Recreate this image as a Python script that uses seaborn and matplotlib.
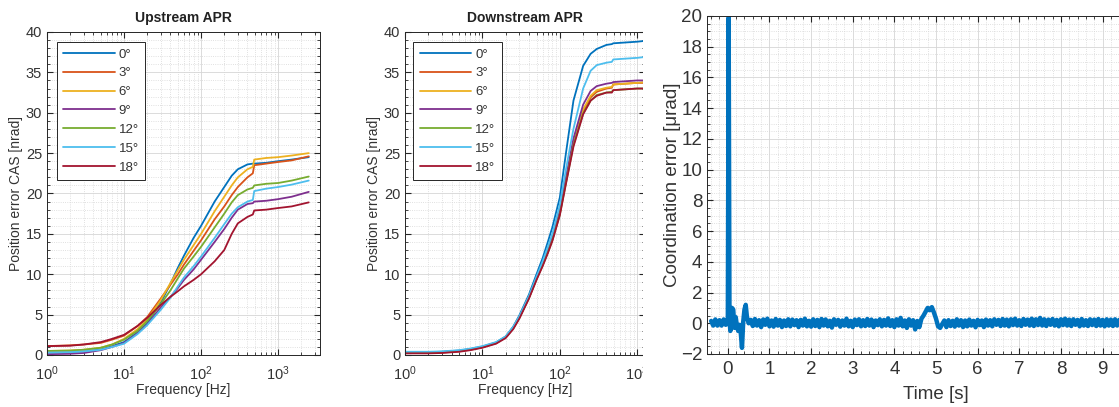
import numpy as np
import pandas as pd
import matplotlib
matplotlib.use('Agg')
import matplotlib.pyplot as plt
from matplotlib.patches import Rectangle
from matplotlib.ticker import MultipleLocator, LogLocator, NullFormatter, FixedLocator
import seaborn as sns

#---------------------------------------------------
angles=['0°', '3°', '6°', '9°', '12°', '15°', '18°']
cmap=['#0072BD', '#D95319', '#EDB120', '#7E2F8E', '#77AC30', '#4DBEEE', '#A2142F']

# upstream APR, position error [nrad] vs frequency [Hz]
f_up=[1, 2, 3, 5, 7, 10, 15, 20, 30, 40, 50, 60, 80, 100, 150, 200, 250, 300, 400, 470, 490, 700, 1000, 1500, 2500]
up_0=[0.3, 0.35, 0.45, 0.7, 1.1, 1.6, 2.8, 3.9, 6.5, 8.8, 10.8, 12.3, 14.5, 16.0, 19.0, 20.8, 22.2, 23.0, 23.6, 23.7, 23.7, 23.8, 24.0, 24.2, 24.5]
up_3=[1.1, 1.2, 1.3, 1.5, 1.9, 2.4, 3.6, 4.7, 7.0, 8.7, 10.0, 11.2, 12.9, 14.2, 16.8, 18.4, 19.8, 20.8, 22.0, 22.5, 23.5, 23.7, 23.9, 24.1, 24.6]
up_6=[0.5, 0.55, 0.65, 0.9, 1.3, 2.0, 3.2, 4.4, 6.8, 8.9, 10.5, 11.8, 13.6, 15.0, 17.8, 19.6, 21.0, 22.0, 23.0, 23.3, 24.2, 24.4, 24.5, 24.7, 25.0]
up_9=[0.1, 0.15, 0.25, 0.6, 1.0, 1.5, 2.7, 3.8, 5.9, 7.2, 8.3, 9.3, 10.6, 11.8, 14.0, 15.6, 17.0, 18.0, 18.7, 18.8, 19.0, 19.1, 19.3, 19.6, 20.2]
up_12=[0.5, 0.55, 0.65, 0.9, 1.3, 1.9, 3.0, 4.2, 6.3, 8.0, 9.5, 10.7, 12.2, 13.4, 15.8, 17.5, 18.9, 19.8, 20.5, 20.7, 21.0, 21.2, 21.3, 21.6, 22.1]
up_15=[0.3, 0.35, 0.45, 0.65, 1.0, 1.4, 2.6, 3.7, 5.6, 7.1, 8.5, 9.6, 11.0, 12.2, 14.5, 16.2, 17.5, 18.3, 19.0, 19.2, 20.3, 20.6, 20.8, 21.1, 21.6]
up_18=[1.1, 1.15, 1.3, 1.6, 2.0, 2.5, 3.6, 4.6, 6.2, 7.2, 7.9, 8.5, 9.3, 10.0, 11.6, 13.0, 15.0, 16.3, 17.1, 17.4, 17.9, 18.0, 18.2, 18.4, 18.9]

# downstream APR
f_dn=[1, 2, 3, 5, 7, 10, 15, 20, 25, 30, 40, 50, 60, 70, 80, 100, 120, 150, 200, 250, 300, 400, 470, 490, 700, 1000, 1250]
dn_0=[0.35, 0.35, 0.4, 0.55, 0.75, 1.05, 1.55, 2.3, 3.5, 4.9, 7.5, 10.0, 12.0, 14.0, 15.8, 19.5, 25.0, 31.5, 35.8, 37.3, 37.9, 38.4, 38.5, 38.6, 38.7, 38.8, 38.9]
dn_3=[0.25, 0.25, 0.3, 0.45, 0.65, 0.95, 1.45, 2.2, 3.3, 4.6, 7.1, 9.4, 11.2, 12.8, 14.3, 17.6, 21.5, 26.2, 30.2, 31.9, 32.6, 33.0, 33.1, 33.5, 33.6, 33.7, 33.7]
dn_6=[0.3, 0.3, 0.35, 0.5, 0.7, 1.0, 1.5, 2.2, 3.4, 4.7, 7.2, 9.5, 11.3, 12.9, 14.4, 17.7, 21.7, 26.4, 30.4, 32.1, 32.8, 33.1, 33.2, 33.5, 33.6, 33.7, 33.8]
dn_9=[0.3, 0.3, 0.35, 0.5, 0.7, 1.0, 1.5, 2.2, 3.4, 4.7, 7.2, 9.5, 11.3, 12.9, 14.5, 17.8, 22.0, 26.8, 31.0, 32.7, 33.3, 33.6, 33.7, 33.8, 33.9, 34.0, 34.0]
dn_12=[0.3, 0.3, 0.35, 0.5, 0.7, 1.0, 1.5, 2.2, 3.3, 4.6, 7.1, 9.4, 11.1, 12.7, 14.2, 17.4, 21.3, 26.0, 29.9, 31.5, 32.2, 32.5, 32.6, 32.8, 32.9, 33.0, 33.0]
dn_15=[0.4, 0.4, 0.45, 0.6, 0.8, 1.1, 1.6, 2.3, 3.5, 4.8, 7.3, 9.7, 11.6, 13.4, 15.0, 18.6, 23.0, 28.0, 33.0, 35.2, 35.9, 36.2, 36.3, 36.6, 36.7, 36.8, 36.9]
dn_18=[0.2, 0.2, 0.25, 0.4, 0.6, 0.9, 1.4, 2.1, 3.2, 4.5, 7.0, 9.3, 11.0, 12.6, 14.1, 17.3, 21.2, 25.8, 29.8, 31.5, 32.1, 32.5, 32.5, 32.8, 32.9, 33.0, 33.0]

# coordination error [urad] vs time [s]
t_pre=[-0.4, -0.35, -0.3, -0.25, -0.2, -0.15, -0.1, -0.05, 0.0]
e_pre=[0.15, -0.15, 0.25, -0.15, 0.2, -0.15, 0.25, -0.1, 0.0]
t_tr=[0.02, 0.04, 0.06, 0.08, 0.1, 0.13, 0.16, 0.19, 0.22, 0.25, 0.28, 0.31, 0.34, 0.37, 0.4, 0.43, 0.46, 0.5]
e_tr=[19.9, 0.3, -0.5, 0.2, 1.0, 0.9, -0.3, 0.4, -0.2, -0.5, -0.1, -0.6, -1.6, 0.1, 0.9, 1.2, 0.4, 0.0]
dt_noise=0.05
e_n1=[0.22, -0.18, 0.28, -0.15, 0.2, -0.25, 0.25, -0.1, 0.3, -0.2, 0.18, -0.22, 0.28, -0.15, 0.22, -0.25, 0.18, -0.18,
      0.26, -0.2, 0.24, -0.12, 0.2, -0.25, 0.22, -0.15, 0.3, -0.2, 0.16, -0.22, 0.26, -0.18, 0.22, -0.25, 0.28, -0.15,
      0.25, -0.2, 0.16, -0.28, 0.26, -0.1, 0.22, -0.22, 0.18, -0.15, 0.3, -0.2, 0.16, -0.25, 0.24, -0.12, 0.26, -0.2,
      0.2, -0.18, 0.28, -0.15, 0.24, -0.25, 0.18, -0.12, 0.26, -0.2, 0.22, -0.15, 0.32, -0.18, 0.2, -0.25, 0.26, -0.15,
      0.35, -0.2, 0.18, -0.3, 0.26, -0.15, 0.2, -0.4, 0.15]
t_bump=[4.6, 4.65, 4.7, 4.75, 4.8, 4.85, 4.9, 4.95, 5.0, 5.05, 5.1, 5.15]
e_bump=[-0.25, 0.3, 0.5, 0.75, 1.0, 0.85, 1.05, 0.7, 0.3, -0.2, -0.3, -0.05]
e_n2=[0.18, -0.25, 0.2, -0.18, 0.16, -0.22, 0.26, -0.15, 0.2, -0.25, 0.18, -0.2, 0.24, -0.15, 0.16, -0.26, 0.22, -0.12,
      0.18, -0.25, 0.24, -0.15, 0.2, -0.2, 0.26, -0.1, 0.22, -0.18, 0.28, -0.15, 0.24, -0.2, 0.26, -0.12, 0.3, -0.15,
      0.2, -0.18, 0.28, -0.1, 0.24, -0.15, 0.3, -0.18, 0.26, -0.12, 0.35, -0.15, 0.26, -0.18, 0.24, -0.1, 0.28, -0.15,
      0.22, -0.2, 0.26, -0.12, 0.3, -0.15, 0.24, -0.18, 0.26, -0.1, 0.22, -0.2, 0.28, -0.15, 0.2, -0.18, 0.26, -0.12,
      0.24, -0.18, 0.28, -0.15, 0.22, -0.2, 0.26, -0.15, 0.24, -0.18, 0.26, -0.15, 0.22, -0.18, 0.24, -0.15]

#---------------------------------------------------
sns.set_style('ticks')
plt.rcParams['font.family']=['Liberation Sans', 'DejaVu Sans']
plt.rcParams['mathtext.default']='regular'
tc='#333333'

def long_df(f, l_val):
	l_df=[]
	for ang, val in zip(angles, l_val):
		l_df.append(pd.DataFrame({'f': f, 'err': val, 'angle': ang}))
	return pd.concat(l_df, ignore_index=True)

def style_ax(ax, fs):
	for s in ax.spines.values():
		s.set_color('#262626')
		s.set_linewidth(0.7)
	ax.tick_params(which='both', direction='in', top=True, right=True, colors='#262626', labelcolor=tc, labelsize=fs)
	ax.tick_params(which='major', length=4)
	ax.tick_params(which='minor', length=2)
	ax.grid(which='major', color='#d6d6d6', linewidth=0.6, linestyle='-')
	ax.grid(which='minor', color='#d6d6d6', linewidth=0.6, linestyle=':')
	ax.set_axisbelow(True)

def plt_freq(ax, df, title, xmax):
	sns.lineplot(data=df, x='f', y='err', hue='angle', hue_order=angles, palette=cmap, ax=ax,
		linewidth=1.3, estimator=None, sort=True)
	ax.set_xscale('log')
	ax.set_xlim(1, xmax)
	ax.set_ylim(0, 40)
	ax.yaxis.set_major_locator(MultipleLocator(5))
	ax.yaxis.set_minor_locator(MultipleLocator(1))
	ax.xaxis.set_major_locator(LogLocator(base=10, numticks=10))
	ax.xaxis.set_minor_locator(LogLocator(base=10, subs=np.arange(2, 10), numticks=10))
	ax.xaxis.set_minor_formatter(NullFormatter())
	style_ax(ax, 10.5)
	ax.tick_params(axis='x', which='major', pad=7)
	ax.set_title(title, fontsize=10, weight='bold', color='#222222', pad=7)
	ax.set_xlabel('Frequency [Hz]', fontsize=10, color=tc, labelpad=0)
	ax.set_ylabel('Position error CAS [nrad]', fontsize=10, color=tc, labelpad=2)
	leg=ax.legend(loc='upper left', bbox_to_anchor=(0.035, 0.97), fontsize=9.5, frameon=True, fancybox=False,
		edgecolor='#262626', framealpha=1, handlelength=3.9, handletextpad=0.3, labelspacing=0.5, borderpad=0.5,
		borderaxespad=0)
	leg.get_frame().set_linewidth(0.7)
	for t in leg.get_texts():
		t.set_color(tc)
	return

#---------------------------------------------------
W, H=1119, 407
fig=plt.figure(figsize=(W/100, H/100), dpi=100)

ax1=fig.add_axes([47/W, (H-355)/H, 273/W, 323/H])
plt_freq(ax1, long_df(f_up, [up_0, up_3, up_6, up_9, up_12, up_15, up_18]), 'Upstream APR', 3500)

ax2=fig.add_axes([405/W, (H-355)/H, 240/W, 323/H])
plt_freq(ax2, long_df(f_dn, [dn_0, dn_3, dn_6, dn_9, dn_12, dn_15, dn_18]), 'Downstream APR', 1260)
ax2.set_zorder(1)

# the source figure is cropped here
fig.add_artist(Rectangle((643/W, 0), 1-643/W, 1, transform=fig.transFigure, facecolor='white', edgecolor='none', zorder=2))

# time panel
t_all=np.concatenate([t_pre, t_tr, 0.55+np.arange(len(e_n1))*dt_noise, t_bump, 5.2+np.arange(len(e_n2))*dt_noise])
e_all=np.concatenate([e_pre, e_tr, e_n1, e_bump, e_n2])
df_t=pd.DataFrame({'t': t_all, 'e': e_all})

ax3=fig.add_axes([707/W, (H-354)/H, 458/W, 338/H])
ax3.set_zorder(3)
sns.lineplot(data=df_t, x='t', y='e', color='#0072BD', linewidth=3.2, estimator=None, sort=False, ax=ax3)
ax3.set_xlim(-0.5, 10.5)
ax3.set_ylim(-2, 20)
ax3.xaxis.set_major_locator(FixedLocator(range(10)))
ax3.xaxis.set_minor_locator(MultipleLocator(0.2))
ax3.yaxis.set_major_locator(MultipleLocator(2))
ax3.yaxis.set_minor_locator(MultipleLocator(0.5))
style_ax(ax3, 13.5)
ax3.tick_params(axis='x', which='major', pad=5)
ax3.set_xlabel('Time [s]', fontsize=13.5, color=tc, labelpad=6)
ax3.set_ylabel('Coordination error [μrad]', fontsize=13.5, color=tc, labelpad=0)

plt.savefig('out.png', dpi=100)
plt.close()
